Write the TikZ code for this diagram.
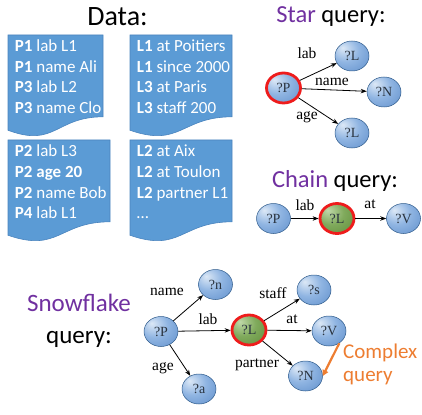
\documentclass[tikz,border=0pt]{standalone}
\usepackage{fontspec}
\setmainfont{Carlito}
\newfontfamily\graphfont{Liberation Serif}
\usetikzlibrary{shapes.geometric,arrows.meta}

\definecolor{docblue}{HTML}{5B9BD5}
\definecolor{docline}{HTML}{4A84BE}
\definecolor{qpurple}{HTML}{7030A0}
\definecolor{qorange}{HTML}{ED7D31}
\definecolor{hotred}{HTML}{EE1C1C}
\definecolor{nodeline}{HTML}{2E5A8A}
\definecolor{nodetext}{HTML}{2A3440}
\definecolor{blA}{HTML}{DCE8F6}
\definecolor{blB}{HTML}{90B5E2}
\definecolor{blC}{HTML}{5486C6}
\definecolor{grA}{HTML}{C0D9AA}
\definecolor{grB}{HTML}{80AA5C}
\definecolor{grC}{HTML}{578532}

% soft highlight at the upper left of each variable node
\pgfdeclareradialshading{varblue}{\pgfpoint{-14bp}{14bp}}{%
  color(0bp)=(blA); color(20bp)=(blB); color(50bp)=(blC); color(70bp)=(blC)}
\pgfdeclareradialshading{vargreen}{\pgfpoint{-14bp}{14bp}}{%
  color(0bp)=(grA); color(20bp)=(grB); color(50bp)=(grC); color(70bp)=(grC)}

% flow-chart "document" outline: left, top, right, height
\newcommand{\docshape}[4]{%
  \filldraw[fill=docblue, draw=docline, line width=0.6pt]
    (#1,#2) -- (#3,#2) -- (#3,{#2+0.802*#4})
    .. controls ({(#1+#3)/2},{#2+0.802*#4}) and ({(#1+#3)/2},{#2+1.107*#4})
    .. (#1,{#2+0.934*#4}) -- cycle;}

\tikzset{
  doctext/.style={anchor=base west, inner sep=0pt, text=white,
    font=\fontsize{17}{17}\selectfont},
  title/.style={anchor=base, inner sep=0pt, font=\fontsize{24.5}{24.5}\selectfont},
  var/.style={ellipse, minimum width=34pt, minimum height=30pt, inner sep=0pt,
    shading=varblue, draw=nodeline, line width=0.5pt, text=nodetext,
    font=\graphfont\fontsize{14}{14}\selectfont},
  hub/.style={var, draw=hotred, line width=2.8pt},
  hubgreen/.style={hub, shading=vargreen},
  lbl/.style={inner sep=0pt, font=\graphfont\fontsize{15.5}{15.5}\selectfont},
  edge/.style={line width=0.8pt, -{Stealth[length=6pt,width=4.5pt]}},
}

\begin{document}
\begin{tikzpicture}[x=1pt, y=-1pt]
\useasboundingbox (0,0) rectangle (422,414);

% ---------------- data partitions ----------------
\node[title, font=\fontsize{28}{28}\selectfont] (datatitle) at (117.5,26) {Data:};

\docshape{8}{35}{103}{102}
\docshape{130}{35}{232}{102}
\docshape{8}{140}{110}{102}
\docshape{130}{140}{232}{102}

\foreach \t [count=\i] in {{\textbf{P1} lab L1},{\textbf{P1} name Ali},
    {\textbf{P3} lab L2},{\textbf{P3} name Clo}}
  \node[doctext] (pa\i) at (14.7,{51.7+20.5*(\i-1)}) {\t};
\foreach \t [count=\i] in {{\textbf{L1} at Poitiers},{\textbf{L1} since 2000},
    {\textbf{L3} at Paris},{\textbf{L3} staff 200}}
  \node[doctext] (la\i) at (136.7,{51.7+20.5*(\i-1)}) {\t};
\foreach \t [count=\i] in {{\textbf{P2} lab L3},{\textbf{P2 age 20}},
    {\textbf{P2} name Bob},{\textbf{P4} lab L1}}
  \node[doctext] (pb\i) at (14.7,{157+20.5*(\i-1)}) {\t};
\foreach \t [count=\i] in {{\textbf{L2} at Aix},{\textbf{L2} at Toulon},
    {\textbf{L2} partner L1},{…}}
  \node[doctext] (lb\i) at (136.7,{157+20.5*(\i-1)}) {\t};

% ---------------- star query ----------------
\node[title] (startitle) at (331,23) {\textcolor{qpurple}{Star} query:};
\node[hub] (sP) at (283.5,88) {?P};
\node[var] (sL) at (352,56) {?L};
\node[var] (sN) at (384,92) {?N};
\node[var] (sA) at (352,133) {?L};
\draw[edge] (sP) -- (sL);
\draw[edge] (sP) -- (sN);
\draw[edge] (sP) -- (sA);
\node[lbl] (slab) at (307,53) {lab};
\node[lbl] (sname) at (332,82) {name};
\node[lbl] (sage) at (307,117) {age};

% ---------------- chain query ----------------
\node[title] (chaintitle) at (335,187) {\textcolor{qpurple}{Chain} query:};
\node[var] (cP) at (273.5,218.5) {?P};
\node[hubgreen] (cL) at (337,218.5) {?L};
\node[var] (cV) at (403.5,218.5) {?V};
\draw[edge] (cP) -- (cL);
\draw[edge] (cL) -- (cV);
\node[lbl] (clab) at (305,205) {lab};
\node[lbl] (cat) at (370,204) {at};

% ---------------- snowflake query ----------------
\node[title, font=\fontsize{25}{25}\selectfont, text=qpurple] (snowtitle) at (79,311.7) {Snowflake};
\node[title, font=\fontsize{25}{25}\selectfont] (snowquery) at (79,343) {query:};
\node[var] (fP) at (161,331.5) {?P};
\node[var] (fn) at (215.5,284.5) {?n};
\node[var] (fa) at (199,389) {?a};
\node[hubgreen] (fL) at (249,330) {?L};
\node[var] (fs) at (314,290) {?s};
\node[var] (fV) at (329,331) {?V};
\node[var] (fN) at (305.5,376) {?N};
\draw[edge] (fP) -- (fn);
\draw[edge] (fP) -- (fa);
\draw[edge] (fP) -- (fL);
\draw[edge] (fL) -- (fs);
\draw[edge] (fL) -- (fV);
\draw[edge] (fL) -- (fN);
\node[lbl] (fname) at (167,292) {name};
\node[lbl] (flab) at (208,319) {lab};
\node[lbl] (fage) at (163,368) {age};
\node[lbl] (fstaff) at (273,293) {staff};
\node[lbl] (fat) at (292,319) {at};
\node[lbl] (fpartner) at (257,365) {partner};

% pointer to the harder part of the pattern
\draw[qorange, line width=2.2pt, -{Triangle[length=6pt,width=6pt]}]
  (fV.-50) -- (fN.east);
\node[anchor=base west, inner sep=0pt, text=qorange,
  font=\fontsize{21}{21}\selectfont] (cplx) at (343,358) {Complex};
\node[anchor=base west, inner sep=0pt, text=qorange,
  font=\fontsize{21}{21}\selectfont] (cplxq) at (343,381.5) {query};
\end{tikzpicture}
\end{document}
